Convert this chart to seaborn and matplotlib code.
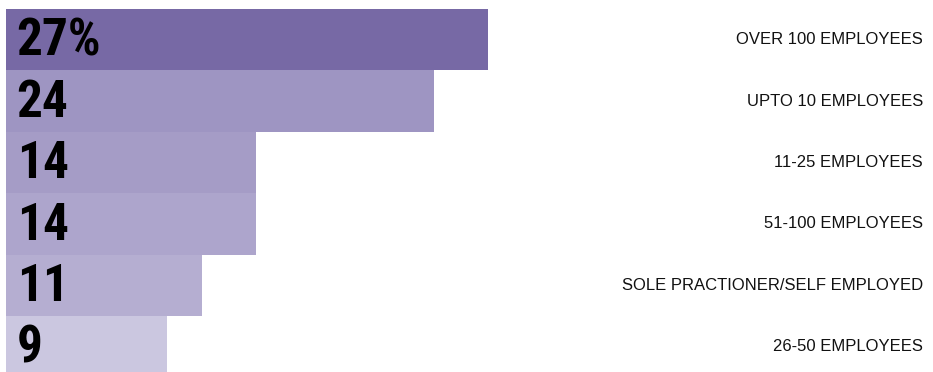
import matplotlib
matplotlib.use("Agg")
import matplotlib.pyplot as plt
from matplotlib import font_manager
import seaborn as sns
import pandas as pd

categories = ["OVER 100 EMPLOYEES", "UPTO 10 EMPLOYEES", "11-25 EMPLOYEES",
              "51-100 EMPLOYEES", "SOLE PRACTIONER/SELF EMPLOYED", "26-50 EMPLOYEES"]
values = [27, 24, 14, 14, 11, 9]
value_labels = ["27%", "24", "14", "14", "11", "9"]
colors = ["#7769a5", "#9e95c2", "#a59cc6", "#ada5cc", "#b5aed1", "#cbc7e0"]

sns.set_style("white")
names = {f.name for f in font_manager.fontManager.ttflist}
num_font = "Roboto Condensed" if "Roboto Condensed" in names else "Liberation Sans"

df = pd.DataFrame({"category": categories, "value": values})

fig = plt.figure(figsize=(9.33, 3.72), dpi=100)
ax = fig.add_axes([6 / 933, 0, 1 - 6 / 933, 1 - 9 / 372])
sns.barplot(data=df, x="value", y="category", hue="category", palette=colors,
            dodge=False, width=1.0, legend=False, ax=ax, saturation=1, linewidth=0)
ax.set_xlim(0, 927 / 17.84)
ax.set_ylim(5.41, -0.5)
ax.axis("off")

for i, lab in enumerate(value_labels):
    ax.text(0.6, i + 0.03, lab, fontsize=37, fontweight="black", family=num_font,
            color="black", va="center", ha="left")
for i, cat in enumerate(categories):
    ax.text(1 - 10 / 927, i, cat, transform=ax.get_yaxis_transform(), fontsize=12,
            family="Liberation Sans", color="#111111", va="center", ha="right")

fig.savefig("out.png", dpi=100)
